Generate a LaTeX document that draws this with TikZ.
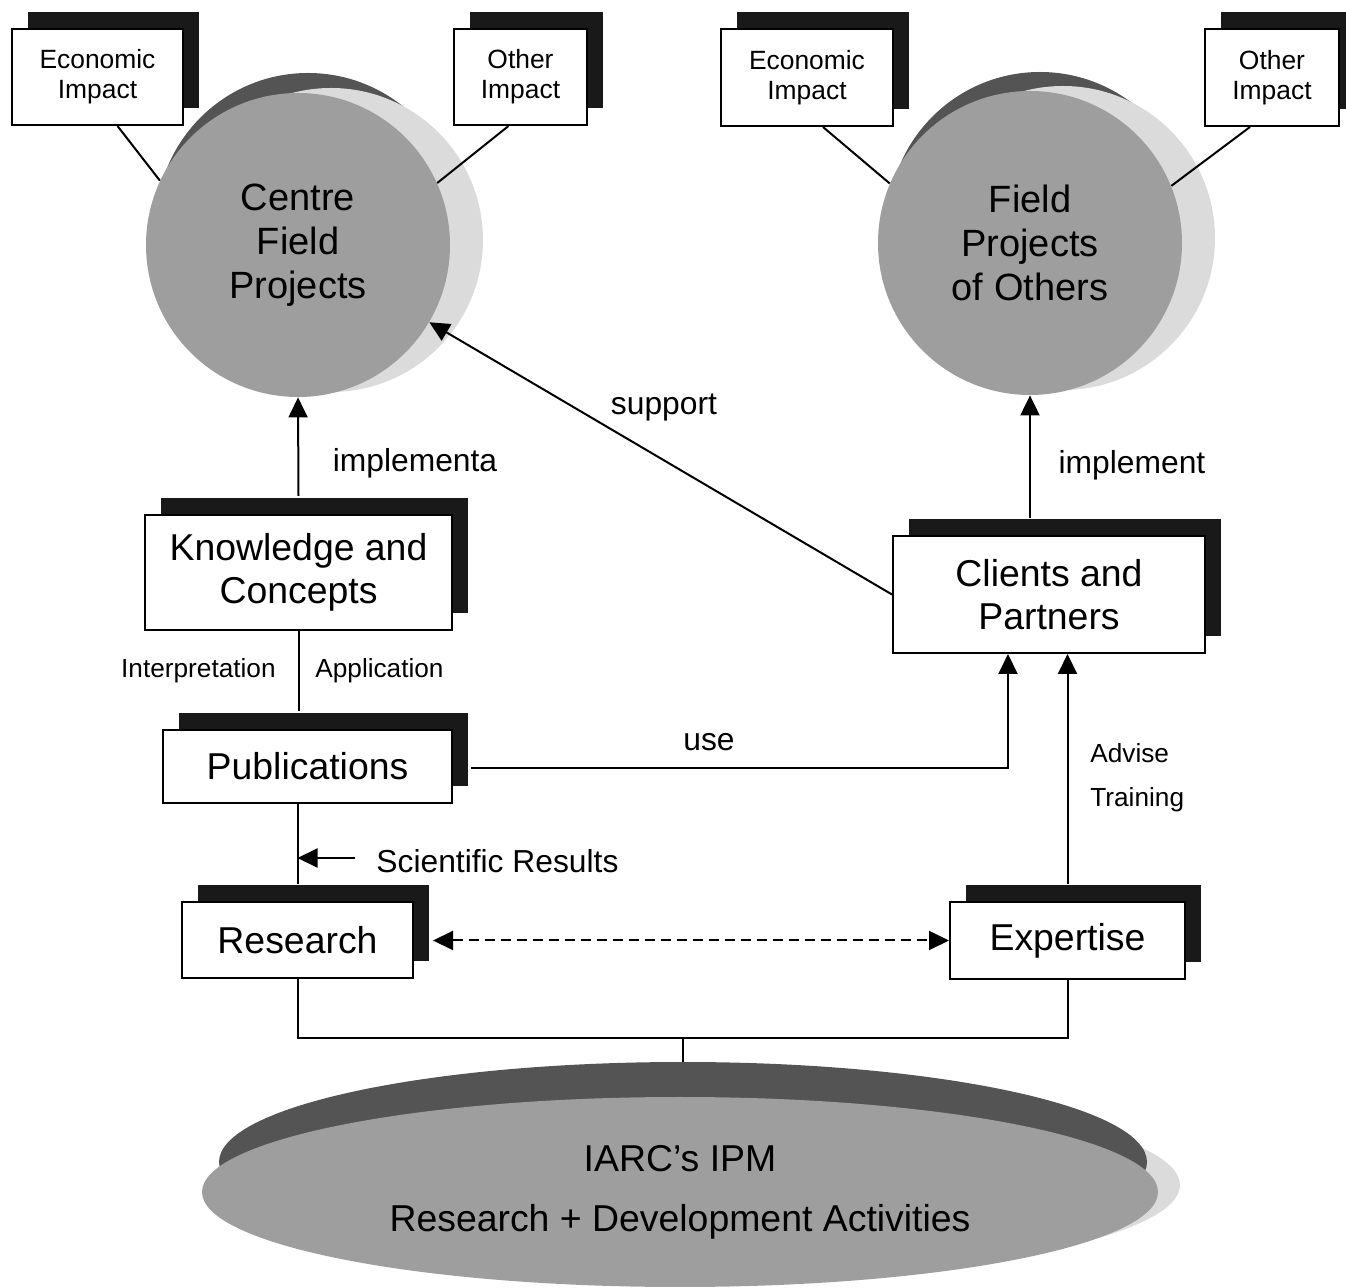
\documentclass[tikz,border=0pt]{standalone}
\usepackage{fontspec}
\setmainfont{Liberation Sans}
\usetikzlibrary{shapes.geometric,shadows,arrows.meta,calc}
\definecolor{midg}{gray}{0.62}
\definecolor{darkg}{gray}{0.33}
\definecolor{lightg}{gray}{0.86}
\begin{document}
\begin{tikzpicture}[x=0.5pt,y=-0.5pt,
  sbox/.style={draw, line width=1pt, fill=white, inner sep=0pt, align=center,
    general shadow={fill=black!90, shadow xshift=8pt, shadow yshift=8.5pt}},
  big/.style={font=\fontsize{18.7}{21.5}\selectfont},
  small/.style={font=\fontsize{13.2}{15}\selectfont},
  lbl/.style={font=\fontsize{15.9}{18}\selectfont, inner sep=0pt},
  slbl/.style={font=\fontsize{13.1}{15}\selectfont, inner sep=0pt},
  ball/.style={circle, minimum size=152pt, inner sep=0pt, fill=midg, align=center, font=\fontsize{19}{22}\selectfont},
  conn/.style={line width=1pt},
  arr/.style={line width=1pt, -{Triangle[length=10pt,width=9.5pt]}},
  darr/.style={line width=1pt, dash pattern=on 5pt off 3pt, {Triangle[length=10pt,width=9.5pt]}-{Triangle[length=10pt,width=9.5pt]}}
]
\useasboundingbox (0,0) rectangle (1346,1288);
\clip (0,0) rectangle (1346,1288);

% ---- left ball
\fill[darkg] (308,225) circle[radius=76pt];
\fill[lightg] (331,240) circle[radius=76pt];
\node[ball] (cL) at (298,245) {Centre\\Field\\Projects};

% ---- right ball
\fill[darkg] (1040,224) circle[radius=76pt];
\fill[lightg] (1063,238) circle[radius=76pt];
\node[ball] (cR) at (1030,243) {Field\\Projects\\of Others};

% ---- bottom ellipse
\fill[lightg] (700,1185) ellipse[x radius=240pt, y radius=47.5pt];
\fill[darkg] (683,1162) ellipse[x radius=232pt, y radius=50pt];
\node[ellipse, fill=midg, minimum width=478pt, minimum height=95pt, inner sep=0pt, align=center,
  font=\fontsize{18.7}{30}\selectfont] (ipm) at (680,1192) {IARC's IPM\\Research + Development Activities};

% ---- impact boxes
\node[sbox, small, minimum width=85.5pt, minimum height=48pt] (econL) at (97.5,77) {Economic\\Impact};
\node[sbox, small, minimum width=66.5pt, minimum height=48pt] (othL) at (520.5,77) {Other\\Impact};
\node[sbox, small, minimum width=86pt, minimum height=48.5pt] (econR) at (807,77.5) {Economic\\Impact};
\node[sbox, small, minimum width=67pt, minimum height=48.5pt] (othR) at (1272,77.5) {Other\\Impact};

% ---- main boxes
\node[sbox, big, minimum width=153.5pt, minimum height=57.5pt] (know) at (298.5,572.5) {Knowledge and\\Concepts};
\node[sbox, big, minimum width=144.5pt, minimum height=36.5pt] (pub) at (307.5,766.5) {Publications};
\node[sbox, big, minimum width=115.5pt, minimum height=38pt] (res) at (297.5,940.5) {Research};
\node[sbox, big, minimum width=117.5pt, minimum height=38.5pt] (exp) at (1067.5,940.5) {Expertise};
\node[sbox, big, minimum width=156pt, minimum height=58.5pt] (cli) at (1049,594.5) {Clients and\\Partners};

% ---- impact connectors
\draw[conn] ($(econL.south)+(20,0)$) -- (cL.155);
\draw[conn] ($(othL.south)+(-12,0)$) -- (cL.24);
\draw[conn] ($(econR.south)+(16,0)$) -- (cR.157);
\draw[conn] ($(othR.south)+(-22,0)$) -- (cR.22);

% ---- arrows
\draw[arr] ($(know.north)+(0,-18)$) -- (cL.south);
\node[lbl] (limpla) at (415,463) {implementa};

\draw[arr] ($(cR.south |- cli.north)+(0,-17)$) -- (cR.south);
\node[lbl] (limpl) at (1132,465) {implement};

\draw[arr] (cli.west) -- (cL);
\node[lbl] (lsup) at (664,408) {support};

\draw[conn] (know.south) -- ($(know.south |- pub.north)+(0,-18)$);
\node[slbl, anchor=east] (linterp) at (276,671) {Interpretation};
\node[slbl, anchor=west] (lappl) at (315,671) {Application};

\coordinate (usebend) at ($(cli.south)+(-41,0)$);
\draw[arr] ($(pub.east)+(18,1.5)$) -| (usebend);
\node[lbl] (luse) at (709,742) {use};

\draw[arr] ($(exp.north)+(0,-17)$) -- (exp.north |- cli.south);
\node[slbl, anchor=west] (ladv) at (1090,753) {Advise};
\node[slbl, anchor=west] (ltrain) at (1090,800) {Training};

\draw[conn] (res.north |- pub.south) -- ($(res.north)+(0,-17)$);
\coordinate (srA) at (355,858);
\draw[arr] (srA) -- (srA -| res.north);
\node[lbl, anchor=west] (lsci) at (376,861) {Scientific Results};

\draw[darr] ($(res.east)+(19,0)$) -- (exp.west);

% ---- bottom join
\coordinate (junc) at (683,1038);
\coordinate (ipmtop) at (683,1062);
\draw[conn] (res.south) |- (junc) -| (exp.south);
\draw[conn] (junc) -- (ipmtop);
\end{tikzpicture}
\end{document}
